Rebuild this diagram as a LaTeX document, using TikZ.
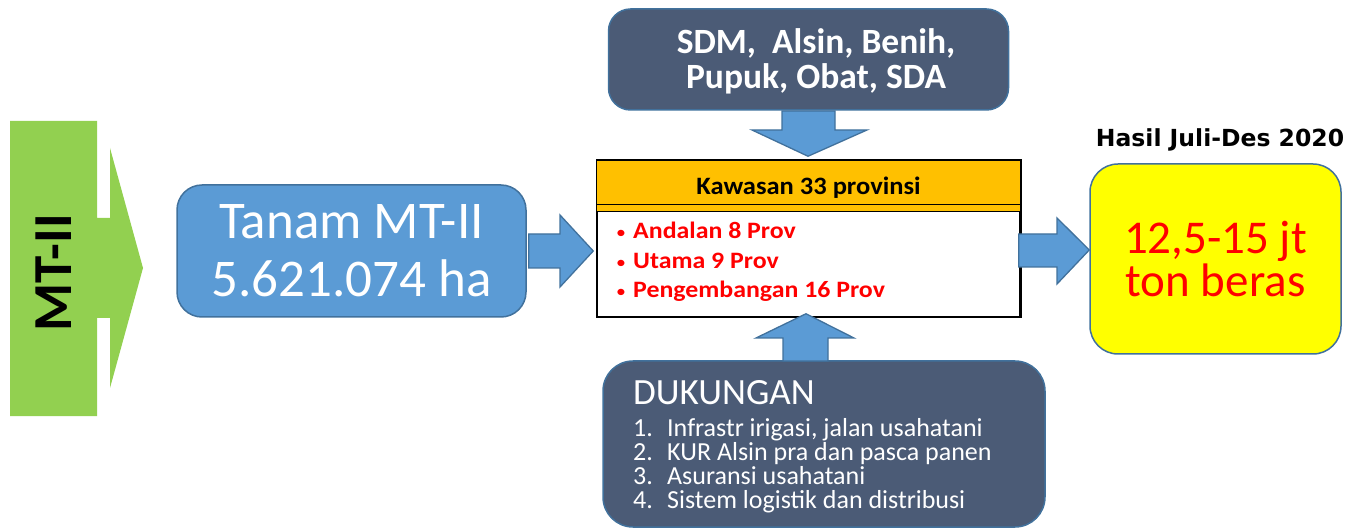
\documentclass[tikz,border=0pt]{standalone}
\usepackage{fontspec}
\setmainfont{Carlito}
\newfontfamily\widefont[FakeStretch=1.1]{Carlito}
\newfontfamily\kawfont[FakeStretch=1.06]{Carlito}
\newfontfamily\hasilfont{DejaVu Sans}
\usetikzlibrary{calc}
\definecolor{mtgreen}{HTML}{92D050}
\definecolor{bbfill}{HTML}{5B9BD5}
\definecolor{bbline}{HTML}{41719C}
\definecolor{slate}{HTML}{4B5B76}
\definecolor{kaworange}{HTML}{FFC000}
\definecolor{resyellow}{HTML}{FFFF00}
\definecolor{txtred}{HTML}{FF0000}
\tikzset{
  bluebox/.style={draw=bbline, line width=1.5pt, fill=bbfill, rounded corners=25pt, text=white, align=center, inner sep=0pt},
  slatebox/.style={draw=bbline, line width=1.5pt, fill=slate, rounded corners=22pt, text=white, inner sep=0pt},
  barrow/.style={draw=bbline, line width=1.3pt, fill=bbfill, line join=miter},
}
\begin{document}
\begin{tikzpicture}[x=1pt,y=-1pt]
\useasboundingbox (0,0) rectangle (1350,529);
% green block arrow
\fill[mtgreen] (10,121) -- (97,121) -- (97,218) -- (110,218) -- (110,148) -- (143,268) -- (110,388) -- (110,318) -- (97,318) -- (97,416) -- (10,416) -- cycle;
\node[rotate=90, font=\bfseries\fontsize{55}{55}\selectfont, inner sep=0pt] (mt) at (54,273) {MT-II};
% Tanam box
\node[bluebox, minimum width=349pt, minimum height=132pt, font=\fontsize{53}{58}\selectfont] (tanam) at (351.5,251) {Tanam MT-II\\5.621.074 ha};
% top box
\node[slatebox, minimum width=400pt, minimum height=101pt] (sdm) at (808.5,59.5) {};
\node[inner sep=0pt, text=white, align=center, font=\bfseries\fontsize{35.5}{35}\selectfont] (sdmt) at (816,61) {SDM,~ Alsin, Benih,\\Pupuk, Obat, SDA};
% Kawasan box
\node[draw=black, line width=1.5pt, minimum width=423pt, minimum height=156pt, inner sep=0pt, fill=white] (kaw) at (808.5,239) {};
\fill[kaworange] (kaw.north west) rectangle ($(kaw.north east)+(0,51)$);
\draw[black, line width=1.3pt] ($(kaw.north west)+(0,44)$) -- ($(kaw.north east)+(0,44)$);
\draw[black, line width=1.3pt] ($(kaw.north west)+(0,51)$) -- ($(kaw.north east)+(0,51)$);
\draw[black, line width=1.5pt] (kaw.north west) rectangle (kaw.south east);
\node[font=\kawfont\bfseries\fontsize{25}{25}\selectfont, inner sep=0pt] (kawt) at (808.5,188) {Kawasan 33 provinsi};
\node[anchor=base west, inner sep=0pt, text=txtred, align=left, font=\widefont\bfseries\fontsize{23.5}{29.5}\selectfont] (bul) at (616,298)
 {\makebox[17pt][l]{\mdseries\fontsize{18}{18}\selectfont •}Andalan 8 Prov\\
  \makebox[17pt][l]{\mdseries\fontsize{18}{18}\selectfont •}Utama 9 Prov\\
  \makebox[17pt][l]{\mdseries\fontsize{18}{18}\selectfont •}Pengembangan 16 Prov};
% Result box
\node[draw=bbline, line width=1.5pt, fill=resyellow, rounded corners=28pt, minimum width=251pt, minimum height=190pt, inner sep=0pt, text=txtred, align=center, font=\fontsize{47}{43}\selectfont] (res) at (1215.5,259) {12,5-15 jt\\ton beras};
\node[font=\hasilfont\bfseries\fontsize{23.5}{23.5}\selectfont, anchor=base, inner sep=0pt] (hasil) at (1220,147) {Hasil Juli-Des 2020};
% DUKUNGAN box
\begin{scope}
\clip (0,0) rectangle (1350,529);
\node[slatebox, rounded corners=30pt, minimum width=442pt, minimum height=166pt] (duk) at (824,444) {};
\end{scope}
\node[anchor=base west, inner sep=0pt, text=white, font=\fontsize{37}{37}\selectfont] (dukt) at (633,405) {DUKUNGAN};
\node[anchor=base west, inner sep=0pt, text=white, align=left, font=\fontsize{26}{24}\selectfont] (dukl) at (633,508)
 {\makebox[34pt][l]{1.}Infrastr irigasi, jalan usahatani\\
  \makebox[34pt][l]{2.}KUR Alsin pra dan pasca panen\\
  \makebox[34pt][l]{3.}Asuransi usahatani\\
  \makebox[34pt][l]{4.}Sistem logistik dan distribusi};
% block arrows
\draw[barrow] ($(tanam.east)+(2,-17)$) -- (560,234) -- (560,215) -- ($(kaw.west |- 0,251)+(-3,0)$) -- (560,287) -- (560,268) -- ($(tanam.east)+(2,17)$) -- cycle;
\draw[barrow] ($(kaw.east |- 0,234)+(-2,0)$) -- (1057,234) -- (1057,218) -- ($(res.west |- 0,250)$) -- (1057,284) -- (1057,267) -- ($(kaw.east |- 0,267)+(-2,0)$) -- cycle;
\draw[barrow] (782,111) -- (835,111) -- (835,130) -- (867,130) -- ($(kaw.north -| 808,0)+(0,-4)$) -- (752,130) -- (782,130) -- cycle;
\draw[barrow] (783,361) -- (783,338) -- (756,338) -- ($(kaw.south -| 806,0)+(0,-4)$) -- (854,338) -- (828,338) -- (828,361) -- cycle;
\end{tikzpicture}
\end{document}
